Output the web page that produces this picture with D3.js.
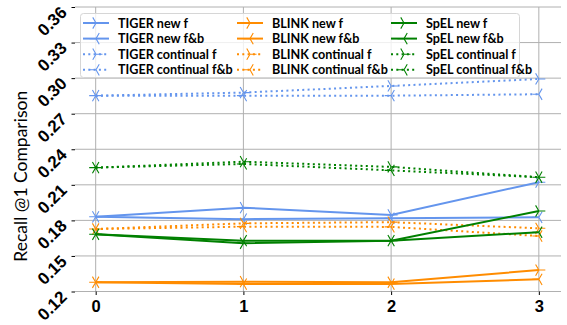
<!DOCTYPE html>
<html>
<head>
<meta charset="utf-8">
<script src="https://cdn.jsdelivr.net/npm/d3@7"></script>
<style>
  body { margin: 0; background: #fff; }
  svg { display: block; }
</style>
</head>
<body>
<div id="chart"></div>
<script>
(function () {

  // ── Data ─────────────────────────────────────────────────────────────────
  var steps = [0, 1, 2, 3];
  var yTicks = [0.12, 0.15, 0.18, 0.21, 0.24, 0.27, 0.30, 0.33, 0.36];

  var tigerNewF    = [0.1830, 0.1907, 0.1846, 0.2122];
  var tigerNewFB   = [0.1830, 0.1810, 0.1818, 0.1826];
  var tigerContF   = [0.2852, 0.2878, 0.2934, 0.2993];
  var tigerContFB  = [0.2852, 0.2852, 0.2852, 0.2864];

  var blinkNewF    = [0.1278, 0.1283, 0.1278, 0.1381];
  var blinkNewFB   = [0.1278, 0.1263, 0.1263, 0.1303];
  var blinkContF   = [0.1727, 0.1775, 0.1785, 0.1733];
  var blinkContFB  = [0.1727, 0.1747, 0.1745, 0.1668];

  var spelNewF     = [0.1683, 0.1607, 0.1629, 0.1879];
  var spelNewFB    = [0.1683, 0.1629, 0.1629, 0.1700];
  var spelContF    = [0.2245, 0.2295, 0.2251, 0.2164];
  var spelContFB   = [0.2245, 0.2276, 0.2222, 0.2164];

  var COLORS = { TIGER: "#6495ed", BLINK: "#ff8c00", SpEL: "#008000" };

  var series = [
    { label: "TIGER new f",          model: "TIGER", dotted: false, marker: "right", values: tigerNewF },
    { label: "TIGER new f&b",        model: "TIGER", dotted: false, marker: "left",  values: tigerNewFB },
    { label: "TIGER continual f",    model: "TIGER", dotted: true,  marker: "right", values: tigerContF },
    { label: "TIGER continual f&b",  model: "TIGER", dotted: true,  marker: "left",  values: tigerContFB },
    { label: "BLINK new f",          model: "BLINK", dotted: false, marker: "right", values: blinkNewF },
    { label: "BLINK new f&b",        model: "BLINK", dotted: false, marker: "left",  values: blinkNewFB },
    { label: "BLINK continual f",    model: "BLINK", dotted: true,  marker: "right", values: blinkContF },
    { label: "BLINK continual f&b",  model: "BLINK", dotted: true,  marker: "left",  values: blinkContFB },
    { label: "SpEL new f",           model: "SpEL",  dotted: false, marker: "right", values: spelNewF },
    { label: "SpEL new f&b",         model: "SpEL",  dotted: false, marker: "left",  values: spelNewFB },
    { label: "SpEL continual f",     model: "SpEL",  dotted: true,  marker: "right", values: spelContF },
    { label: "SpEL continual f&b",   model: "SpEL",  dotted: true,  marker: "left",  values: spelContFB }
  ];

  // ── Layout ───────────────────────────────────────────────────────────────
  var W = 567, H = 325;
  var left = 75, right = 561, top = 7, bottom = 291.5;

  var x = d3.scaleLinear().domain([-0.14, 3.15]).range([left, right]);
  var y = d3.scaleLinear().domain([0.12, 0.36]).range([bottom, top]);

  var svg = d3.select("#chart").append("svg")
    .attr("width", W).attr("height", H)
    .style("font-family", "Lato, 'Open Sans', sans-serif");

  // ── Grid ─────────────────────────────────────────────────────────────────
  var grid = svg.append("g").attr("class", "grid");
  grid.selectAll("line.h").data(yTicks).join("line")
    .attr("class", "h")
    .attr("x1", left).attr("x2", right)
    .attr("y1", function (d) { return y(d); })
    .attr("y2", function (d) { return y(d); })
    .attr("stroke", "#b0b0b0").attr("stroke-width", 1);
  grid.selectAll("line.v").data(steps).join("line")
    .attr("class", "v")
    .attr("x1", function (d) { return x(d); })
    .attr("x2", function (d) { return x(d); })
    .attr("y1", top).attr("y2", bottom)
    .attr("stroke", "#b0b0b0").attr("stroke-width", 1);

  // ── Axes ─────────────────────────────────────────────────────────────────
  var yAxis = svg.append("g")
    .attr("transform", "translate(" + left + ",0)")
    .call(d3.axisLeft(y).tickValues(yTicks).tickSize(3.5).tickPadding(0)
      .tickFormat(d3.format(".2f")));
  yAxis.select(".domain").remove();
  yAxis.selectAll(".tick line").attr("stroke", "#000").attr("stroke-width", 1);
  yAxis.selectAll(".tick text")
    .attr("x", null).attr("dy", null)
    .attr("text-anchor", "end")
    .attr("transform", "translate(-7,6) rotate(-45)")
    .attr("font-size", "17px").attr("font-weight", "bold").attr("fill", "#000");

  var xAxis = svg.append("g")
    .attr("transform", "translate(0," + bottom + ")")
    .call(d3.axisBottom(x).tickValues(steps).tickSize(3.5).tickPadding(5)
      .tickFormat(d3.format("d")));
  xAxis.select(".domain").remove();
  xAxis.selectAll(".tick line").attr("stroke", "#000");
  xAxis.selectAll(".tick text")
    .attr("font-size", "16.5px").attr("font-weight", "bold").attr("fill", "#000");

  svg.append("text")
    .attr("transform", "translate(27," + ((top + bottom) / 2 + 27) + ") rotate(-90)")
    .attr("text-anchor", "middle")
    .attr("font-size", "17.5px")
    .attr("fill", "#000")
    .text("Recall @1 Comparison");

  // ── Markers ──────────────────────────────────────────────────────────────
  var R = 6.5;
  function triPath(kind) {
    var s = kind === "right" ? 1 : -1;
    var ax = -s * R * 0.5, ay = R * 0.866;
    return "M0,0L" + (s * R) + ",0M0,0L" + ax + "," + (-ay) + "M0,0L" + ax + "," + ay;
  }

  // ── Lines ────────────────────────────────────────────────────────────────
  var line = d3.line()
    .x(function (d, i) { return x(steps[i]); })
    .y(function (d) { return y(d); });

  var plot = svg.append("g").attr("class", "series");
  series.forEach(function (s) {
    var g = plot.append("g");
    g.append("path")
      .attr("d", line(s.values))
      .attr("fill", "none")
      .attr("stroke", COLORS[s.model])
      .attr("stroke-width", 2)
      .attr("stroke-dasharray", s.dotted ? "2,3.3" : null);
    g.selectAll("path.mk").data(s.values).join("path")
      .attr("class", "mk")
      .attr("transform", function (d, i) {
        return "translate(" + x(steps[i]) + "," + y(d) + ")";
      })
      .attr("d", triPath(s.marker))
      .attr("fill", "none")
      .attr("stroke", COLORS[s.model])
      .attr("stroke-width", 1.1);
  });

  // ── Legend ───────────────────────────────────────────────────────────────
  var lgd = svg.append("g").attr("class", "legend");
  lgd.append("rect")
    .attr("x", 80.5).attr("y", 13.5)
    .attr("width", 439).attr("height", 64)
    .attr("rx", 3)
    .attr("fill", "rgba(255,255,255,0.8)")
    .attr("stroke", "#d6d6d6");

  series.forEach(function (s, i) {
    var col = Math.floor(i / 4), row = i % 4;
    var gx = 83 + col * 154, gy = 23 + row * 15.6;
    var item = lgd.append("g").attr("transform", "translate(" + gx + "," + gy + ")");
    item.append("line")
      .attr("x1", 0).attr("x2", 26).attr("y1", 0).attr("y2", 0)
      .attr("stroke", COLORS[s.model])
      .attr("stroke-width", 2)
      .attr("stroke-dasharray", s.dotted ? "2,3.3" : null);
    item.append("path")
      .attr("transform", "translate(13,0)")
      .attr("d", triPath(s.marker))
      .attr("fill", "none")
      .attr("stroke", COLORS[s.model])
      .attr("stroke-width", 1.1);
    item.append("text")
      .attr("x", 35).attr("y", 4.5)
      .attr("font-size", "12.6px").attr("font-weight", "bold")
      .attr("fill", "#000")
      .text(s.label);
  });

})();
</script>
</body>
</html>
